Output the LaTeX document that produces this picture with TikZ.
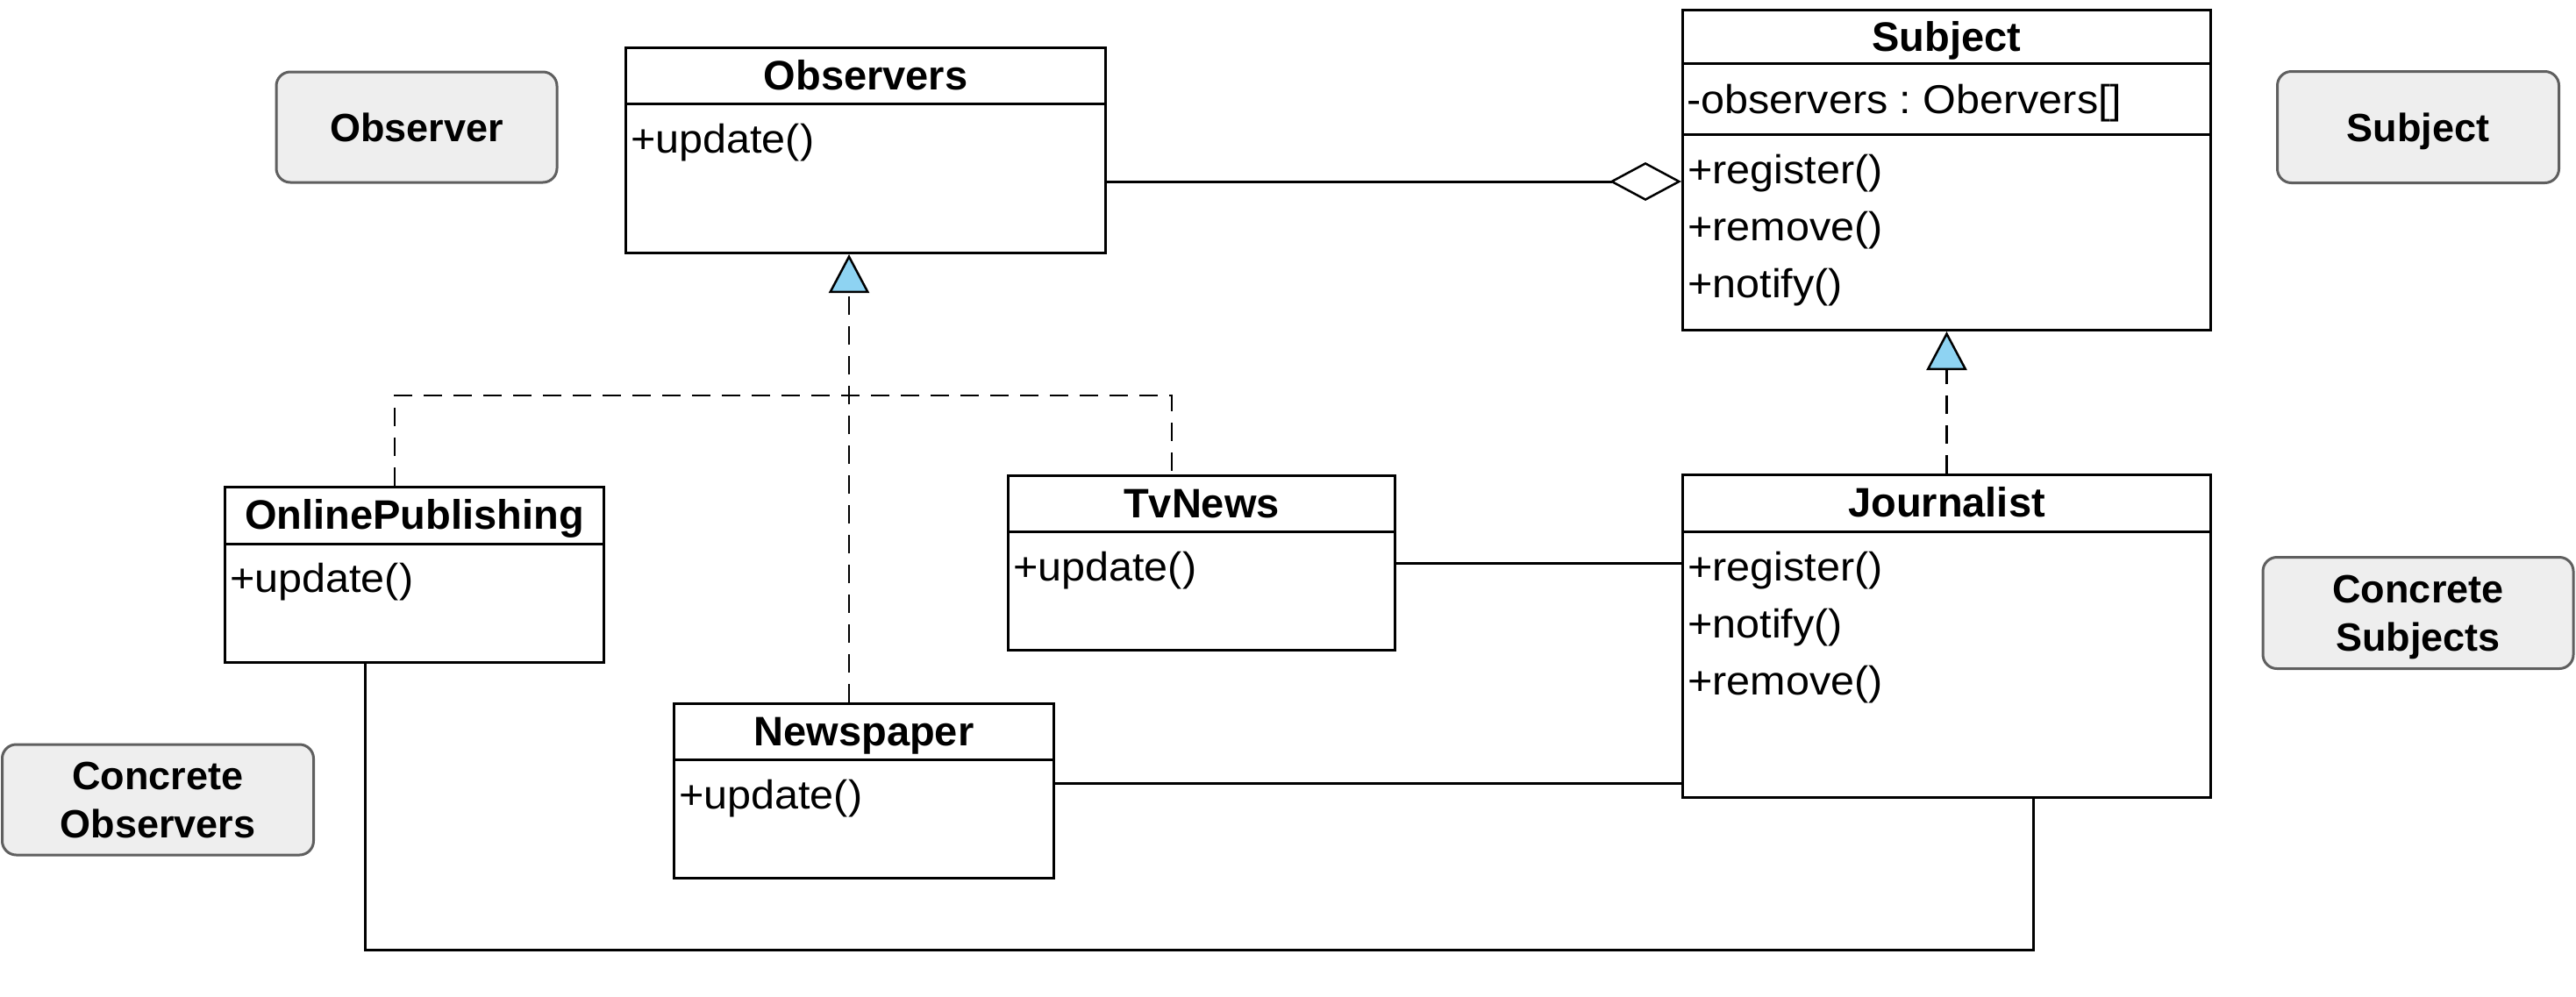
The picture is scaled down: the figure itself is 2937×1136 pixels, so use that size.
\documentclass[tikz,border=0pt]{standalone}
\usepackage{fontspec}
\setmainfont{Liberation Sans}
\newfontfamily\memberfont[FakeStretch=1.055]{Liberation Sans}
\usetikzlibrary{arrows.meta,calc,positioning}
\definecolor{notefill}{HTML}{EEEEEE}
\definecolor{notedraw}{HTML}{5F5F5F}
\definecolor{realfill}{HTML}{8ED3F2}

\begin{document}
\begin{tikzpicture}[x=1pt,y=-1pt,font=\fontsize{45}{55}\selectfont]
	\tikzset{cls/.style = {draw, line width=3pt, anchor=north west, inner sep=0pt},
		title/.style = {font=\fontsize{47}{55}\selectfont\bfseries, anchor=base, inner sep=0pt},
		member/.style = {font=\memberfont\fontsize{46}{55}\selectfont, anchor=base west, inner sep=0pt},
		note/.style = {draw=notedraw, fill=notefill, line width=3pt, rounded corners=16pt, align=center, inner sep=0pt, text depth=0pt, font=\fontsize{45}{55}\selectfont\bfseries},
		link/.style = {line width=3pt},
		dashline/.style = {line width=2.8pt, dash pattern=on 21pt off 13pt},
		realize/.style = {dashline, -{Triangle[length=44pt,width=46pt,fill=realfill,line width=2.5pt]}},
		agg/.style = {link, -{Diamond[open,length=82pt,width=44pt,line width=2.5pt]}}}
	\useasboundingbox (0,0) rectangle (2937,1136);
% notes
\node[note, minimum width=320pt, minimum height=126pt] (observer-note) at (475,145) {Observer};
\node[note, minimum width=321pt, minimum height=127pt] (subject-note) at (2757,145) {Subject};
\node[note, minimum width=354pt, minimum height=127pt] (concsubj-note) at (2757,699) {Concrete\\Subjects};
\node[note, minimum width=355pt, minimum height=126pt] (concobs-note) at (180,912) {Concrete\\Observers};
% classes
\node[cls, minimum width=547pt, minimum height=234pt] (observers) at (712,53) {};
\node[cls, minimum width=602pt, minimum height=365pt] (subject) at (1917,10) {};
\node[cls, minimum width=432pt, minimum height=200pt] (online) at (255,554) {};
\node[cls, minimum width=441pt, minimum height=199pt] (tvnews) at (1148,541) {};
\node[cls, minimum width=433pt, minimum height=199pt] (newspaper) at (767,801) {};
\node[cls, minimum width=602pt, minimum height=368pt] (journalist) at (1917,540) {};
% headers
	\draw[link] ($(observers.north west)+(0,65)$) -- ($(observers.north east)+(0,65)$);
	\draw[link] ($(subject.north west)+(0,62)$) -- ($(subject.north east)+(0,62)$);
	\draw[link] ($(subject.north west)+(0,143)$) -- ($(subject.north east)+(0,143)$);
	\draw[link] ($(online.north west)+(0,66)$) -- ($(online.north east)+(0,66)$);
	\draw[link] ($(tvnews.north west)+(0,65)$) -- ($(tvnews.north east)+(0,65)$);
	\draw[link] ($(newspaper.north west)+(0,65)$) -- ($(newspaper.north east)+(0,65)$);
	\draw[link] ($(journalist.north west)+(0,66)$) -- ($(journalist.north east)+(0,66)$);
\node[title] (observers-t) at ($(observers.north)+(0,49)$) {Observers};
\node[title] (subject-t) at ($(subject.north)+(0,48)$) {Subject};
\node[title] (online-t) at ($(online.north)+(0,49)$) {OnlinePublishing};
\node[title] (tvnews-t) at ($(tvnews.north)+(0,49)$) {TvNews};
\node[title] (newspaper-t) at ($(newspaper.north)+(0,49)$) {Newspaper};
\node[title] (journalist-t) at ($(journalist.north)+(0,49)$) {Journalist};
% members
\node[member] (observers-m) at ($(observers.north west)+(7,121)$) {+update()};
\node[member] (subject-a) at ($(subject.north west)+(6,119)$) {-observers :\ Obervers[]};
\foreach \m [count=\i] in {register,remove,notify}
	\node[member] (subject-m\i) at ($(subject.north west)+(7,134+65*\i)$) {+\m()};
\node[member] (online-m) at ($(online.north west)+(7,121)$) {+update()};
\node[member] (tvnews-m) at ($(tvnews.north west)+(7,121)$) {+update()};
\node[member] (newspaper-m) at ($(newspaper.north west)+(7,121)$) {+update()};
\foreach \m [count=\i] in {register,notify,remove}
	\node[member] (journalist-m\i) at ($(journalist.north west)+(7,57+65*\i)$) {+\m()};
% connectors
\coordinate (aggy) at (0,207);
\coordinate (papy) at (0,893);
\coordinate (busl) at (450,451);
\coordinate (busm) at (968,451);
\coordinate (busr) at (1336,451);
\coordinate (loopl) at (416,1083);
\coordinate (loopr) at (2318,1083);
	\draw[agg] (observers.east |- aggy) -- (subject.west |- aggy);
	\draw[dashline] (online.north -| busl) -- (busl) -- (busr) -- (tvnews.north -| busr);
	\draw[realize] (newspaper.north -| busm) -- (observers.south -| busm);
	\draw[realize] (journalist.north) -- (subject.south);
	\draw[link] (tvnews.east) -- (tvnews.east -| journalist.west);
	\draw[link] (newspaper.east |- papy) -- (journalist.west |- papy);
	\draw[link] (online.south -| loopl) -- (loopl) -- (loopr) -- (journalist.south -| loopr);
\end{tikzpicture}
\end{document}
